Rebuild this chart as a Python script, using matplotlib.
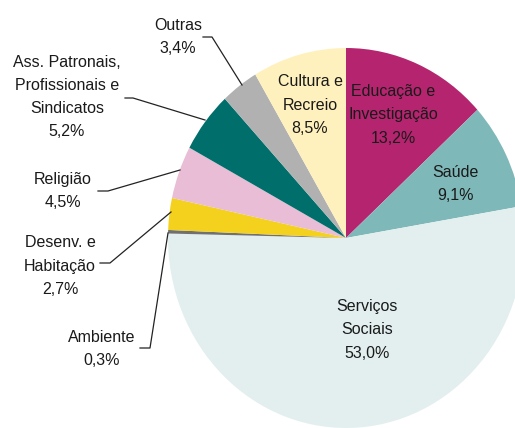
import matplotlib
matplotlib.use('Agg')
import matplotlib.pyplot as plt
from matplotlib.lines import Line2D

W, H = 515, 428

# fatias, no sentido dos ponteiros do relógio a partir do topo
nomes = ['Educação e\nInvestigação', 'Saúde', 'Serviços\nSociais', 'Ambiente',
         'Desenv. e\nHabitação', 'Religião', 'Ass. Patronais,\nProfissionais e\nSindicatos',
         'Outras', 'Cultura e\nRecreio']
valores = [13.2, 9.1, 53.0, 0.3, 2.7, 4.5, 5.2, 3.4, 8.5]
cores = ['#B5256F', '#7FB8B8', '#E3EFEF', '#707070', '#F4D11C', '#E8BDD5',
         '#006E6B', '#B1B1B1', '#FFF1BD']

# centro e raios do "círculo" em pixeis (a imagem original está esticada)
CX, CY, RX, RY = 346, 238, 178, 190

# posições dos rótulos (pixeis) e linhas de chamada
rotulos = {
    'Educação e\nInvestigação': (393, 115, None),
    'Saúde': (455, 184, None),
    'Serviços\nSociais': (367, 330, None),
    'Cultura e\nRecreio': (310, 105, None),
    'Outras': (178, 37, [(203, 37), (212, 37), (242, 85)]),
    'Ass. Patronais,\nProfissionais e\nSindicatos': (67, 97, [(125, 98), (133, 98), (205, 120)]),
    'Religião': (63, 191, [(98, 191), (108, 191), (180, 170)]),
    'Desenv. e\nHabitação': (60, 266, [(100, 263), (110, 263), (171, 212)]),
    'Ambiente': (102, 349, [(140, 348), (150, 348), (168, 233)]),
}


def pct(v):
    return ('%.1f%%' % v).replace('.', ',')


fig = plt.figure(figsize=(W / 100, H / 100), dpi=100)
ax = fig.add_axes([0, 0, 1, 1])
ax.pie(valores, colors=cores, startangle=90, counterclock=False,
       wedgeprops=dict(linewidth=0))
ax.set_aspect('auto')
ax.set_xlim(-CX / RX, (W - CX) / RX)
ax.set_ylim((CY - H) / RY, CY / RY)
ax.axis('off')

for nome, v in zip(nomes, valores):
    px, py, linha = rotulos[nome]
    fig.text(px / W, 1 - py / H, nome + '\n' + pct(v), ha='center', va='center',
             fontsize=11.5, family='Liberation Sans', color='#1a1a1a', linespacing=1.68)
    if linha:
        xs = [p[0] / W for p in linha]
        ys = [1 - p[1] / H for p in linha]
        fig.add_artist(Line2D(xs, ys, color='#222222', lw=0.9, transform=fig.transFigure))

fig.savefig('out.png', dpi=100, facecolor='white')
